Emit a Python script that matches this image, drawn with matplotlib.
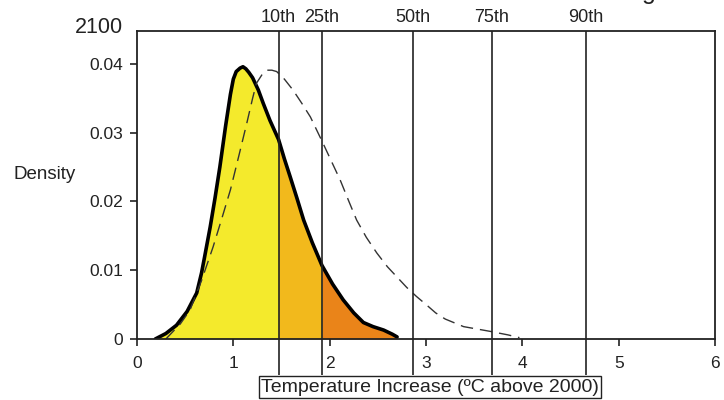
import numpy as np
import matplotlib.pyplot as plt

plt.rcParams['font.family'] = ['Liberation Sans', 'DejaVu Sans']

# 2100 warming pdf (solid) and comparison pdf (dashed)
temp = np.array([0.19, 0.30, 0.41, 0.52, 0.62, 0.67, 0.70, 0.76, 0.81, 0.86, 0.92,
                 0.97, 1.00, 1.03, 1.07, 1.10, 1.13, 1.16, 1.20, 1.26, 1.31, 1.38, 1.47,
                 1.53, 1.59, 1.66, 1.73, 1.82, 1.92, 2.03, 2.14, 2.25, 2.35,
                 2.45, 2.56, 2.65, 2.70])
dens = np.array([0.0, 0.0008, 0.0020, 0.0040, 0.0067, 0.0096, 0.0118, 0.0163, 0.0205, 0.0250, 0.0310,
                 0.0356, 0.0378, 0.0389, 0.0394, 0.0396, 0.0393, 0.0388, 0.0380, 0.0362, 0.0343, 0.0318, 0.0290,
                 0.0262, 0.0236, 0.0205, 0.0173, 0.0140, 0.0107, 0.0080, 0.0057, 0.0038, 0.0024,
                 0.0018, 0.0013, 0.0007, 0.0003])

temp_ref = np.array([0.30, 0.45, 0.55, 0.67, 0.79, 0.88, 0.97, 1.06, 1.14, 1.20,
                     1.24, 1.30, 1.35, 1.40, 1.45, 1.53, 1.62, 1.71, 1.80, 1.93,
                     2.02, 2.11, 2.20, 2.28, 2.38, 2.49, 2.60, 2.70, 2.80, 2.90,
                     3.01, 3.10, 3.20, 3.39, 3.67, 3.85, 3.97])
dens_ref = np.array([0.0, 0.0022, 0.0042, 0.0085, 0.0134, 0.0175, 0.0217, 0.0268, 0.0314, 0.0350,
                     0.0372, 0.0385, 0.0391, 0.0391, 0.0389, 0.0378, 0.0362, 0.0343, 0.0323, 0.0285,
                     0.0258, 0.0231, 0.0200, 0.0173, 0.0148, 0.0125, 0.0105, 0.0090, 0.0075, 0.0062,
                     0.0049, 0.0038, 0.0029, 0.0018, 0.0011, 0.0006, 0.0002])

pct_pos = [1.47, 1.92, 2.86, 3.68, 4.66]
pct_lab = ['10th', '25th', '50th', '75th', '90th']

ink = '#222222'
fig = plt.figure(figsize=(7.24, 4.0), dpi=100)
ax = fig.add_axes([0.1892, 0.1525, 0.7984, 0.77])

# shaded bands under the solid curve
bands = [(temp.min(), pct_pos[0], '#f4ea2c'),
         (pct_pos[0], pct_pos[1], '#f2b91c'),
         (pct_pos[1], temp.max(), '#ea8419')]
for lo, hi, c in bands:
    m = (temp >= lo) & (temp <= hi)
    ax.fill_between(temp[m], 0, dens[m], color=c, lw=0)

ax.plot(temp, dens, color='black', lw=2.6, solid_capstyle='round', solid_joinstyle='round')
ax.plot(temp_ref, dens_ref, color='#333333', lw=1.0, dashes=(9, 5))

ax.set_xlim(0, 6)
ax.set_ylim(0, 0.0448)

# percentile markers run down past the axis to the label box
for xp, lab in zip(pct_pos, pct_lab):
    ax.vlines(xp, -0.0052, 0.0448, color=ink, lw=1.2, clip_on=False)
    ax.text(xp, 0.04676, lab, ha='center', va='center', fontsize=13, color=ink)

ax.set_xticks(range(7))
ax.set_yticks([0, 0.01, 0.02, 0.03, 0.04])
ax.set_yticklabels(['0', '0.01', '0.02', '0.03', '0.04'])
ax.tick_params(direction='out', length=5, width=1.2, colors=ink, labelsize=12.5, pad=5)
ax.tick_params(axis='x', pad=7)
for s in ax.spines.values():
    s.set_color(ink)
    s.set_linewidth(1.3)

fig.text(0.1036, 0.931, '2100', ha='left', va='center', fontsize=15.5, color=ink)
fig.text(0.018, 0.565, 'Density', ha='left', va='center', fontsize=13.5, color=ink)
fig.text(0.594, 0.032, 'Temperature Increase (\u00baC above 2000)', ha='center', va='center',
         fontsize=14, color=ink,
         bbox=dict(boxstyle='square,pad=0.12', fc='white', ec=ink, lw=1.0))
fig.text(0.887, 1.0025, 'g', ha='left', va='baseline', fontsize=18, color=ink)

fig.savefig('out.png', dpi=100)
